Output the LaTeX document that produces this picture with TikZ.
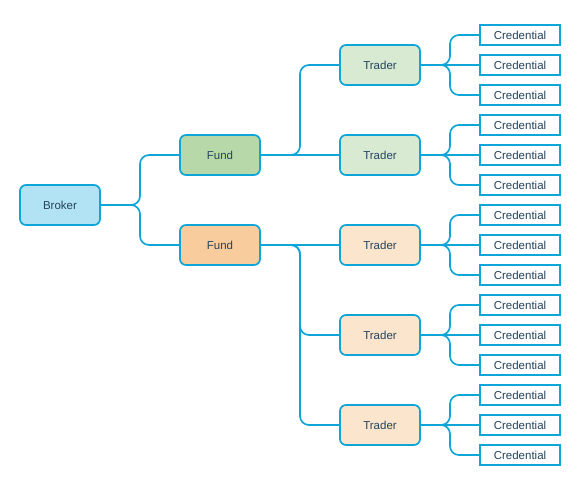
\documentclass[tikz,border=0pt]{standalone}
\usepackage{fontspec}
\setmainfont{Liberation Sans}
\definecolor{lb}{HTML}{0EA5D8}
\definecolor{tx}{HTML}{23445D}
\definecolor{brokerfill}{HTML}{B1E3F4}
\definecolor{fundg}{HTML}{B7D8A9}
\definecolor{fundo}{HTML}{F9CC9D}
\definecolor{trg}{HTML}{D9EAD3}
\definecolor{tro}{HTML}{FCE5CD}
\begin{document}
\begin{tikzpicture}[x=1pt,y=-1pt,
  box/.style={draw=lb, line width=1.7pt, rounded corners=6pt, minimum width=80pt, minimum height=40pt, text=tx, font=\fontsize{11.5}{14}\selectfont, inner sep=0pt},
  cred/.style={draw=lb, line width=1.7pt, minimum width=80pt, minimum height=20pt, fill=white, text=tx, font=\fontsize{11.5}{14}\selectfont, inner sep=0pt},
  link/.style={draw=lb, line width=1.7pt, rounded corners=9pt}]
\useasboundingbox (0,0) rectangle (586,490);
\node[box, fill=brokerfill] (broker) at (60,205) {Broker};
\node[box, fill=fundg] (f1) at (220,155) {Fund};
\node[box, fill=fundo] (f2) at (220,245) {Fund};
\node[box, fill=trg] (t1) at (380,65) {Trader};
\node[box, fill=trg] (t2) at (380,155) {Trader};
\node[box, fill=tro] (t3) at (380,245) {Trader};
\node[box, fill=tro] (t4) at (380,335) {Trader};
\node[box, fill=tro] (t5) at (380,425) {Trader};
\foreach \i/\y in {1/65,2/155,3/245,4/335,5/425}{
  \node[cred] (c\i a) at (520,\y-30) {Credential};
  \node[cred] (c\i b) at (520,\y) {Credential};
  \node[cred] (c\i c) at (520,\y+30) {Credential};
  \draw[link] (t\i.east) -- (450,\y) |- (c\i a.west);
  \draw[link] (t\i.east) -- (450,\y) |- (c\i c.west);
  \draw[link] (t\i.east) -- (c\i b.west);
}
\draw[link] (broker.east) -- (140,205) |- (f1.west);
\draw[link] (broker.east) -- (140,205) |- (f2.west);
\draw[link] (f1.east) -- (300,155) |- (t1.west);
\draw[link] (f1.east) -- (t2.west);
\draw[link] (f2.east) -- (t3.west);
\draw[link] (f2.east) -- (300,245) |- (t4.west);
\draw[link] (f2.east) -- (300,245) |- (t5.west);
\end{tikzpicture}
\end{document}
